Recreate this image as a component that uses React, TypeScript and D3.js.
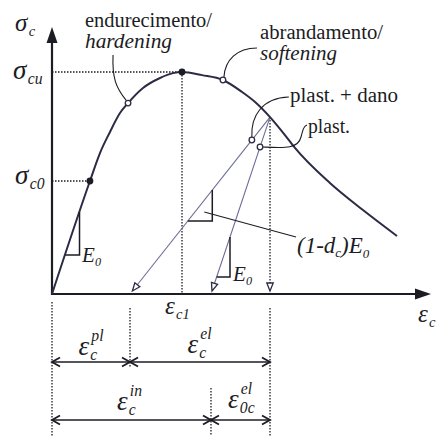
import React from "react";
import * as d3 from "d3";

// stress–strain envelope (normalised: strain / eps_c1, stress / sigma_cu)
const strain = [0, 0.292, 0.369, 0.446, 0.523, 0.585, 0.7, 0.831, 0.931, 1.0, 1.154, 1.315, 1.462, 1.562, 1.677, 1.792, 1.869, 2.138, 2.392, 2.654];
const stress = [0, 0.509, 0.635, 0.73, 0.815, 0.86, 0.928, 0.973, 0.995, 1.0, 0.986, 0.964, 0.91, 0.865, 0.797, 0.716, 0.658, 0.5, 0.378, 0.261];

// key indices
const idxC0 = 1;
const idxHard = 5;
const idxPeak = 9;
const idxSoft = 11;
const idxUnload = 14;

// strain decomposition
const epsPl = 0.6;
const epsIn = 1.223;

const FONT = '"Liberation Serif", Tinos, "Times New Roman"';
const INK = "#1c1c24";
const CURVE = "#2b2b45";
const UNLOAD = "#6d6d96";

const W = 440;
const H = 436;

const x = d3.scaleLinear().domain([0, 2.9]).range([52, 429]);
const y = d3.scaleLinear().domain([0, 1.2]).range([294, 27.6]);

function T({ italic, children, ...rest }: any) {
  return (
    <text {...rest} fill={INK} fontFamily="Liberation Serif" fontStyle={italic ? "italic" : undefined} style={{ fontFamily: FONT }}>
      {children}
    </text>
  );
}

type MLProps = {
  x: number;
  y: number;
  base: string;
  sub?: string;
  sup?: string;
  size?: number;
  baseW?: number;
  anchor?: "start" | "middle";
};

function MathLabel({ x: px, y: py, base, sub, sup, size = 24, baseW = 0.45, anchor = "start" }: MLProps) {
  const bw = size * baseW;
  const ss = size * 0.58;
  const extra = Math.max(sub ? sub.length : 0, sup ? sup.length : 0) * ss * 0.42;
  const x0 = anchor === "middle" ? px - (bw + extra) / 2 : px;
  return (
    <g>
      <T x={x0} y={py} fontSize={size} italic>
        {base}
      </T>
      {sup && (
        <T x={x0 + bw + 1} y={py - size * 0.52} fontSize={ss} italic>
          {sup}
        </T>
      )}
      {sub && (
        <T x={x0 + bw} y={py + size * 0.18} fontSize={ss} italic>
          {sub}
        </T>
      )}
    </g>
  );
}

function chevron(px: number, py: number, dir: number, key: string) {
  const L = 8,
    h = 4.5;
  return (
    <path
      key={key}
      d={`M${px - dir * L},${py - h} L${px},${py} L${px - dir * L},${py + h}`}
      fill="none"
      stroke={INK}
      strokeWidth={1.8}
    />
  );
}

function DimArrow({ x1, x2, yy }: { x1: number; x2: number; yy: number }) {
  return (
    <g>
      <line x1={x1} x2={x2} y1={yy} y2={yy} stroke={INK} strokeWidth={1.6} />
      {chevron(x1, yy, -1, "a")}
      {chevron(x2, yy, 1, "b")}
    </g>
  );
}

function OpenTri({ tx, ty, ang }: { tx: number; ty: number; ang: number }) {
  const L = 8,
    h = 3.2;
  const ux = Math.cos(ang),
    uy = Math.sin(ang);
  const bx = tx - ux * L,
    by = ty - uy * L;
  const p1 = [bx - uy * h, by + ux * h];
  const p2 = [bx + uy * h, by - ux * h];
  return (
    <path
      d={`M${tx},${ty} L${p1[0]},${p1[1]} L${p2[0]},${p2[1]} Z`}
      fill="white"
      stroke={CURVE}
      strokeWidth={1.3}
    />
  );
}

export default function App() {
  const pts: [number, number][] = strain.map((s, i) => [s, stress[i]]);
  const line = d3
    .line<[number, number]>()
    .x((d) => x(d[0]))
    .y((d) => y(d[1]))
    .curve(d3.curveMonotoneX);

  const E0 = stress[idxC0] / strain[idxC0];
  const uX = x(strain[idxUnload]);
  const uY = y(stress[idxUnload]);
  const plX = x(epsPl);
  const inX = x(epsIn);
  const y0 = y(0);

  const onLine = (endX: number, yy: number) => uX + ((yy - uY) / (y0 - uY)) * (endX - uX);
  const angOf = (endX: number) => Math.atan2(y0 - uY, endX - uX);
  const tipY = y0 - 3;

  const t1top = y(0.369),
    t1bot = y(0.176);
  const t1xTop = x(0.369 / E0),
    t1xBot = x(0.176 / E0);
  const t2top = 190,
    t2bot = 221;
  const t2xTop = onLine(plX, t2top),
    t2xBot = onLine(plX, t2bot);
  const t3top = 237,
    t3bot = 277;
  const t3xTop = onLine(inX, t3top),
    t3xBot = onLine(inX, t3bot);

  const cDam = [onLine(plX, 140), 140];
  const cPl = [onLine(inX, 147), 147];

  const hard = [x(strain[idxHard]), y(stress[idxHard])];
  const soft = [x(strain[idxSoft]), y(stress[idxSoft])];
  const peak = [x(strain[idxPeak]), y(stress[idxPeak])];
  const c0 = [x(strain[idxC0]), y(stress[idxC0])];

  const row1 = 362,
    row2 = 420;

  return (
    <div style={{ fontFamily: FONT }}>
      <svg width={W} height={H} fontFamily="Liberation Serif" style={{ position: "absolute", left: 0, top: 0, background: "white", fontFamily: FONT }}>
        {/* dotted reference lines */}
        <g stroke={INK} strokeWidth={1.3} strokeDasharray="1.5,1.5" fill="none">
          <line x1={x(0)} x2={peak[0]} y1={peak[1]} y2={peak[1]} />
          <line x1={peak[0]} x2={peak[0]} y1={peak[1]} y2={y0} />
          <line x1={x(0)} x2={c0[0]} y1={c0[1]} y2={c0[1]} />
          <line x1={uX} x2={uX} y1={uY} y2={tipY - 7} />
          <line x1={x(0)} x2={x(0)} y1={302} y2={H} />
          <line x1={plX} x2={plX} y1={308} y2={row1 + 6} />
          <line x1={uX} x2={uX} y1={308} y2={H} />
          <line x1={inX} x2={inX} y1={388} y2={H} />
        </g>

        {/* unloading lines */}
        <g stroke={UNLOAD} strokeWidth={1.1} fill="none">
          <line x1={uX} y1={uY} x2={onLine(plX, tipY - 6)} y2={tipY - 6} />
          <line x1={uX} y1={uY} x2={onLine(inX, tipY - 6)} y2={tipY - 6} />
        </g>
        <OpenTri tx={onLine(plX, tipY)} ty={tipY} ang={angOf(plX)} />
        <OpenTri tx={onLine(inX, tipY)} ty={tipY} ang={angOf(inX)} />
        <OpenTri tx={uX} ty={tipY} ang={Math.PI / 2} />

        {/* axes */}
        <g stroke={INK} strokeWidth={2.2}>
          <line x1={x(0)} x2={x(0)} y1={y0 + 1} y2={40} />
          <line x1={x(0) - 1} x2={418} y1={y0} y2={y0} />
        </g>
        <path d={`M${x(0)},${27} L${x(0) - 5.5},${43} L${x(0) + 5.5},${43} Z`} fill={INK} />
        <path d={`M${431},${y0} L${415},${y0 - 5.5} L${415},${y0 + 5.5} Z`} fill={INK} />

        {/* envelope curve */}
        <path d={line(pts) || ""} fill="none" stroke={CURVE} strokeWidth={2} />

        {/* slope triangles */}
        <g stroke={INK} strokeWidth={1.5} fill="none">
          <path d={`M${t1xTop},${t1top} L${t1xTop},${t1bot} L${t1xBot},${t1bot}`} />
          <path d={`M${t2xTop},${t2top} L${t2xTop},${t2bot} L${t2xBot},${t2bot}`} />
          <path d={`M${t3xTop},${t3top} L${t3xTop},${t3bot} L${t3xBot},${t3bot}`} />
        </g>

        {/* leaders */}
        <g stroke={INK} strokeWidth={1.1} fill="none">
          <path d={`M${hard[0] - 15},55 C${hard[0] - 16},78 ${hard[0] - 12},88 ${hard[0] - 2},${hard[1] - 3}`} />
          <path d={`M${soft[0] + 1},${soft[1] - 3} C${soft[0] + 2},${soft[1] - 20} ${soft[0] + 14},${soft[1] - 32} ${soft[0] + 34},${soft[1] - 32}`} />
          <path d={`M${cDam[0]},${cDam[1] - 3} C${cDam[0] - 1},${cDam[1] - 24} ${cDam[0] + 10},${cDam[1] - 42} ${cDam[0] + 37},${cDam[1] - 43}`} />
          <path d={`M${cPl[0] + 3},${cPl[1]} C${cPl[0] + 25},${cPl[1] + 1} ${cPl[0] + 38},${cPl[1] + 2} ${cPl[0] + 41},${cPl[1] - 10} C${cPl[0] + 43},${cPl[1] - 18} ${cPl[0] + 44},${cPl[1] - 21} ${cPl[0] + 47},${cPl[1] - 22}`} />
          <line x1={t2xTop - 8} y1={t2top + 22} x2={296} y2={237} />
        </g>

        {/* markers */}
        {[c0, peak].map((p, i) => (
          <circle key={"f" + i} cx={p[0]} cy={p[1]} r={3.4} fill={INK} />
        ))}
        {[hard, soft, cDam, cPl].map((p, i) => (
          <circle key={"o" + i} cx={p[0]} cy={p[1]} r={2.8} fill="white" stroke={CURVE} strokeWidth={1.3} />
        ))}

        {/* dimension arrows */}
        <DimArrow x1={x(0)} x2={plX} yy={row1} />
        <DimArrow x1={plX} x2={uX} yy={row1} />
        <DimArrow x1={x(0)} x2={inX} yy={row2} />
        <DimArrow x1={inX} x2={uX} yy={row2} />

        {/* text annotations */}
        <T x={85} y={27} fontSize={20} textLength={127} lengthAdjust="spacingAndGlyphs">endurecimento/</T>
        <T x={85} y={48} fontSize={20} italic textLength={87} lengthAdjust="spacingAndGlyphs">hardening</T>
        <T x={260} y={39} fontSize={20} textLength={123} lengthAdjust="spacingAndGlyphs">abrandamento/</T>
        <T x={260} y={60} fontSize={20} italic textLength={77} lengthAdjust="spacingAndGlyphs">softening</T>
        <T x={290} y={102} fontSize={20} textLength={108} lengthAdjust="spacingAndGlyphs">plast. + dano</T>
        <T x={308} y={133} fontSize={20} textLength={42} lengthAdjust="spacingAndGlyphs">plast.</T>
        <T x={297} y={253} fontSize={23} italic>
          (1-<tspan>d</tspan>
          <tspan fontSize={13} dy={4}>c</tspan>
          <tspan dy={-4}>)E</tspan>
          <tspan fontSize={13} dy={5}>0</tspan>
        </T>

        <MathLabel x={15} y={31} base="σ" sub="c" size={25} baseW={0.55} />
        <MathLabel x={13} y={79} base="σ" sub="cu" size={27} baseW={0.55} />
        <MathLabel x={15} y={184} base="σ" sub="c0" size={27} baseW={0.55} />
        <MathLabel x={82} y={262} base="E" sub="0" size={21} baseW={0.62} />
        <MathLabel x={233} y={281} base="E" sub="0" size={21} baseW={0.62} />
        <MathLabel x={165} y={314} base="ε" sub="c1" size={25} baseW={0.44} />
        <MathLabel x={418} y={322} base="ε" sub="c" size={25} baseW={0.44} />
        <MathLabel x={(x(0) + plX) / 2} y={355} base="ε" sub="c" sup="pl" size={27} baseW={0.44} anchor="middle" />
        <MathLabel x={(plX + uX) / 2} y={353} base="ε" sub="c" sup="el" size={27} baseW={0.44} anchor="middle" />
        <MathLabel x={(x(0) + inX) / 2 - 2} y={410} base="ε" sub="c" sup="in" size={27} baseW={0.44} anchor="middle" />
        <MathLabel x={(inX + uX) / 2} y={408} base="ε" sub="0c" sup="el" size={27} baseW={0.44} anchor="middle" />
      </svg>
    </div>
  );
}
